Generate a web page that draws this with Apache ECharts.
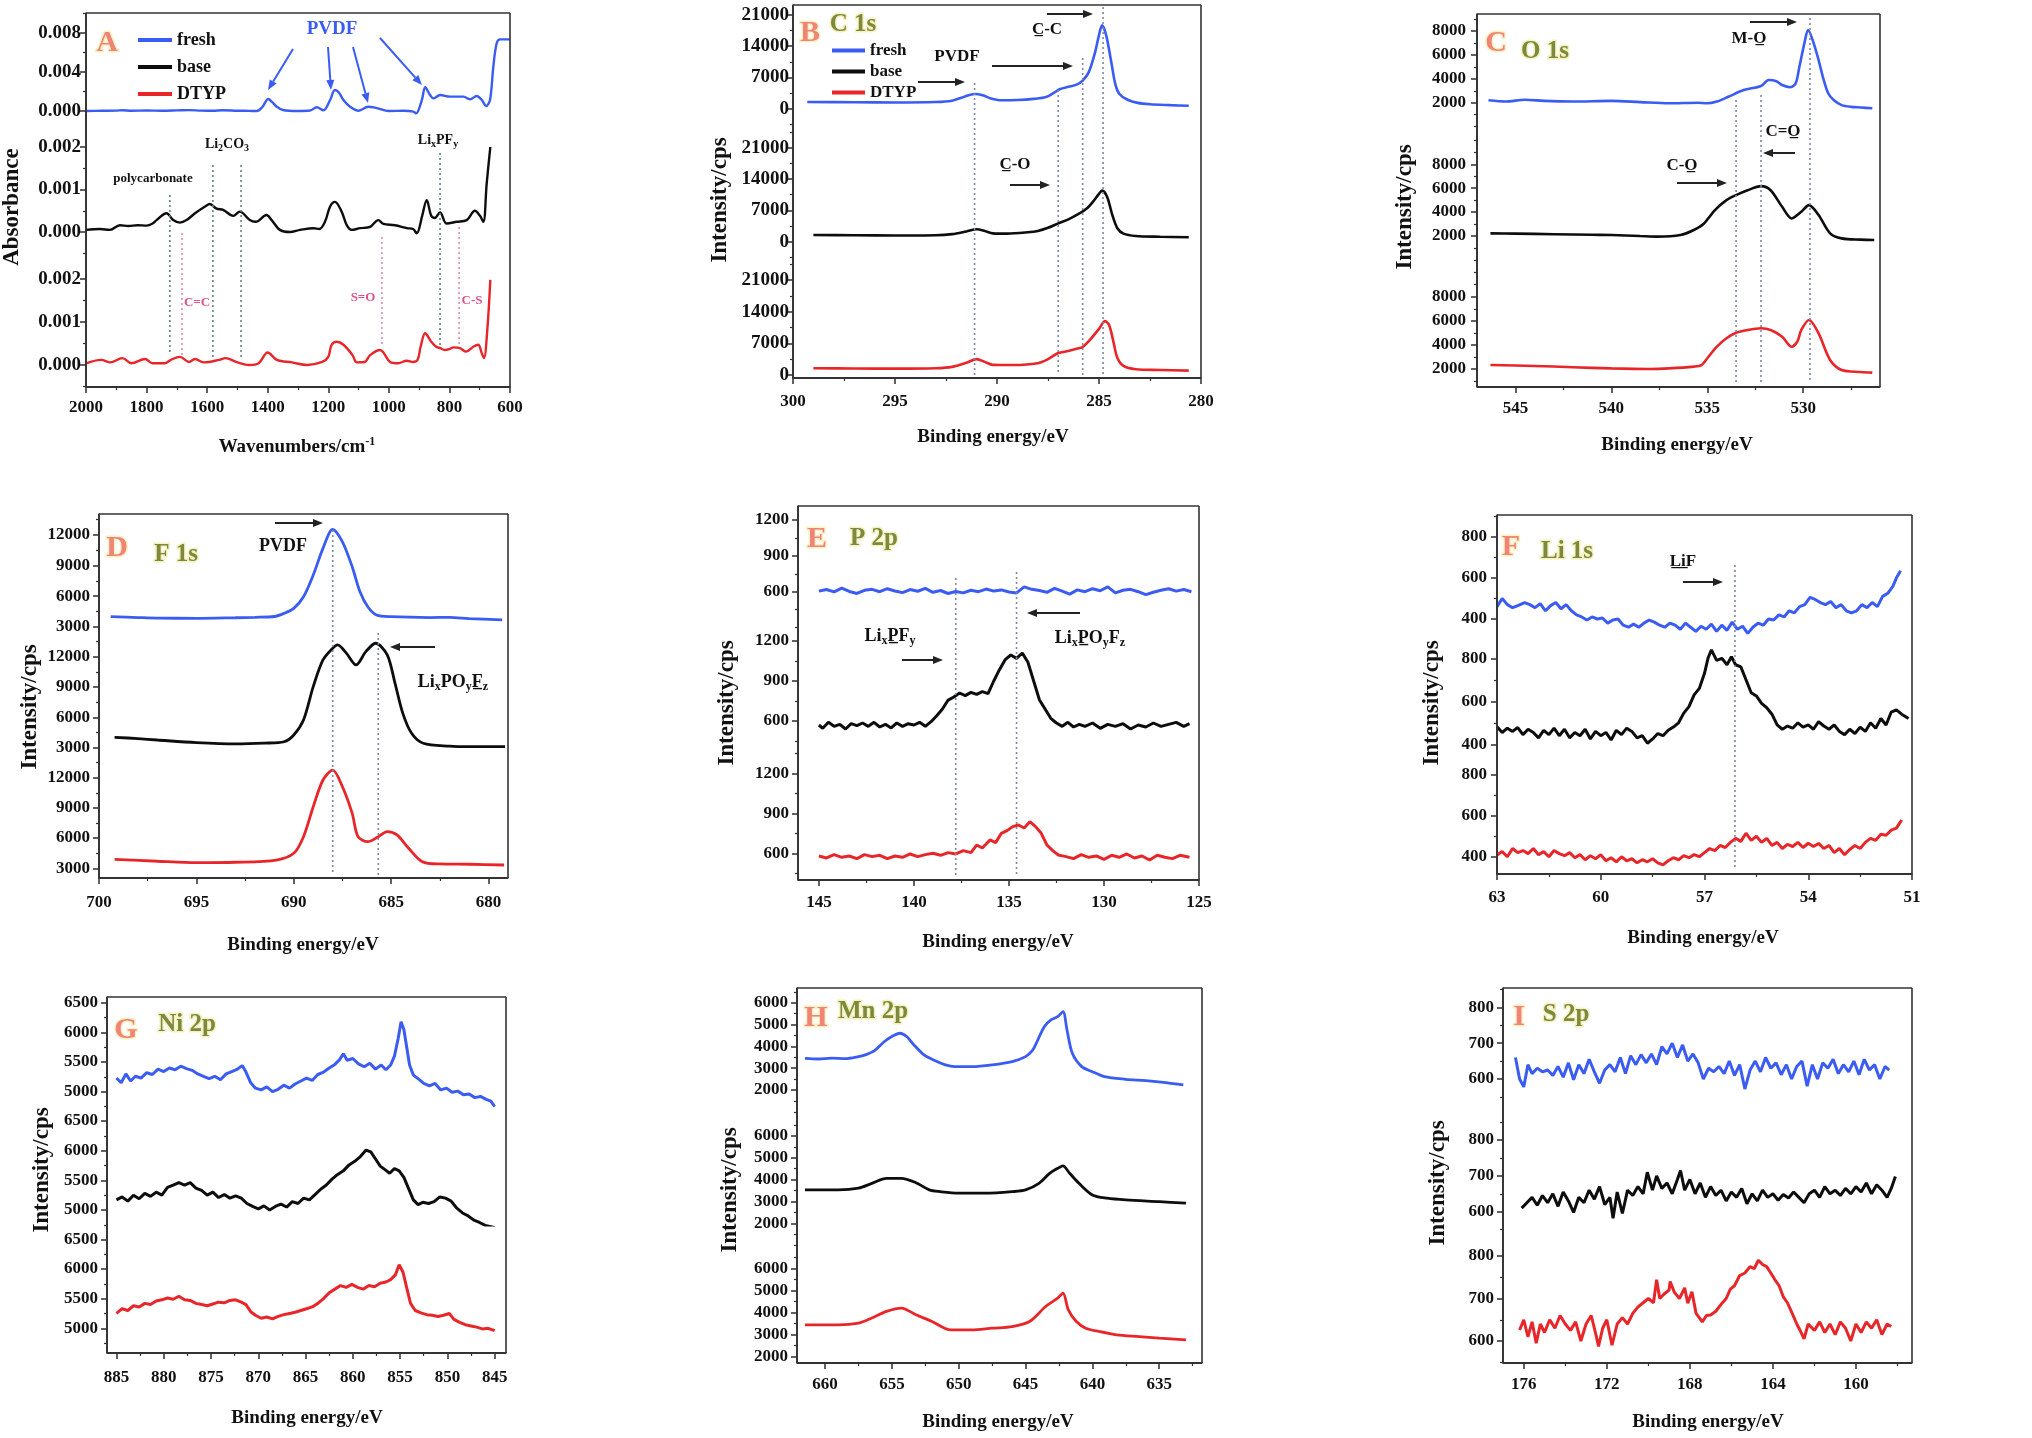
<!DOCTYPE html>
<html>
<head>
<meta charset="utf-8">
<script src="https://cdn.jsdelivr.net/npm/echarts@6/dist/echarts.min.js"></script>
<style>html,body{margin:0;padding:0;background:#fff}#main{width:2032px;height:1438px}</style>
</head>
<body>
<div id="main"></div>
<script>
// ---- A: FTIR absorbance ----
const aFresh = [[2000,0],[1950,0.00002],[1900,0.00004],[1880,0.00008],[1850,0.00003],[1800,0.00005],[1750,0.00003],[1700,0.00006],[1660,0.00009],[1620,0.00004],[1580,0.00002],[1550,0.00008],[1500,0.00003],[1460,0.00001],[1436,0],[1418,0.0004],[1398,0.00123],[1385,0.0009],[1370,0.00044],[1350,0.0001],[1300,0],[1260,0.00005],[1238,0.00038],[1216,0.00007],[1194,0.00113],[1178,0.00215],[1165,0.0019],[1150,0.00113],[1128,0.00044],[1100,0.00003],[1068,0.00044],[1040,0.0003],[1000,0],[950,0.00002],[919,-0.00007],[910,-0.00024],[891,0.00113],[880,0.00243],[864,0.00164],[853,0.0013],[840,0.0015],[831,0.00164],[798,0.00147],[754,0.00147],[732,0.0012],[710,0.00154],[693,0.00113],[679,0.00051],[666,0.00113],[655,0.00455],[644,0.00694],[633,0.00735],[611,0.00735],[600,0.00735]];
const aBase = [[2000,0.00005],[1954,0.00007],[1921,0.00005],[1888,0.00016],[1860,0.00014],[1830,0.00016],[1800,0.00015],[1780,0.0002],[1767,0.00028],[1734,0.00044],[1712,0.00028],[1690,0.00022],[1668,0.00028],[1640,0.00044],[1607,0.0006],[1591,0.00066],[1569,0.00055],[1547,0.00052],[1514,0.00038],[1492,0.00048],[1459,0.00028],[1440,0.00024],[1404,0.0004],[1387,0.00028],[1360,0.00005],[1327,0],[1293,0.00005],[1249,0.00009],[1230,0.00007],[1211,0.00024],[1194,0.0006],[1178,0.00071],[1156,0.00048],[1139,0.00016],[1123,0.00005],[1095,0.00009],[1062,0.00012],[1035,0.00028],[1018,0.00019],[980,0.00016],[940,0.00009],[920,0.00007],[908,-0.00003],[890,0.00038],[875,0.00075],[860,0.00038],[848,0.00033],[831,0.00046],[809,0.0002],[776,0.00024],[743,0.00028],[716,0.0005],[699,0.00038],[688,0.00024],[677,0.00114],[665,0.002]];
const aDtyp = [[2000,0.00004],[1950,0.00012],[1920,0.00006],[1880,0.00016],[1850,0.00004],[1805,0.00014],[1780,0.00004],[1740,0.00004],[1720,0.00012],[1690,0.00019],[1660,0.00007],[1640,0.00014],[1610,0.00006],[1560,0.00012],[1540,0.00016],[1500,0.00006],[1460,0],[1430,0.00004],[1400,0.00029],[1370,0.00012],[1320,0.00006],[1270,0],[1220,0.00007],[1200,0.00019],[1189,0.00047],[1172,0.00054],[1150,0.00047],[1120,0.00023],[1106,0.00006],[1080,0.00007],[1062,0.00023],[1029,0.00035],[1018,0.00029],[996,0.00007],[970,0.00004],[941,0.0001],[920,0.00007],[905,0.00012],[895,0.00043],[880,0.00074],[860,0.00054],[845,0.00043],[830,0.00039],[815,0.00035],[800,0.00037],[787,0.00041],[765,0.00039],[745,0.00031],[720,0.00043],[705,0.00047],[693,0.00027],[686,0.00016],[675,0.00081],[665,0.00198]];

// ---- B: C 1s ----
const bFresh = [[299.3,1500],[297,1450],[295,1400],[293,1500],[292.2,1800],[291.6,2700],[291.1,3300],[290.7,3000],[290.3,2300],[289.8,1900],[289,1950],[288.2,2200],[287.6,2600],[287.2,3600],[286.9,4400],[286.5,4900],[286.1,5400],[285.8,6300],[285.5,8200],[285.2,12500],[285.0,16500],[284.85,18700],[284.65,16500],[284.4,10500],[284.2,5500],[284.0,3300],[283.6,2000],[283.1,1300],[282.5,1000],[281.5,800],[280.6,650]];
const bBase = [[299,1500],[297,1450],[295,1400],[293,1450],[292.2,1700],[291.5,2300],[291.0,2770],[290.6,2400],[290.2,1870],[289.5,1800],[288.5,2100],[288,2400],[287.5,3100],[287,4100],[286.5,5000],[286,6200],[285.6,7400],[285.3,8900],[285.0,10700],[284.85,11400],[284.6,10000],[284.35,6000],[284.1,3000],[283.8,1800],[283.2,1270],[282,1100],[280.6,980]];
const bDtyp = [[299,1500],[297,1450],[295,1400],[293,1500],[292.2,1800],[291.5,2700],[291.0,3510],[290.6,2900],[290.2,2240],[289.2,2200],[288,2600],[287.5,3500],[287,4850],[286.5,5300],[286,5900],[285.8,6200],[285.4,8000],[285.0,10200],[284.7,11900],[284.5,11000],[284.3,7500],[284.1,3800],[283.8,2000],[283.2,1270],[282,1100],[280.6,960]];

// ---- C: O 1s ----
const cFresh = [[546.4,2200],[545.5,2100],[544.5,2250],[543.5,2150],[542,2100],[540,2150],[538.5,2050],[537,1950],[535.5,2000],[535,1950],[534.5,2100],[533.9,2500],[533.1,3060],[532.2,3400],[531.8,3900],[531.4,3800],[531.1,3480],[530.7,3290],[530.4,3600],[530.2,5010],[529.95,6900],[529.75,8080],[529.5,7200],[529.2,5570],[528.95,4000],[528.7,2790],[528.4,2200],[528.0,1800],[527.5,1650],[527,1600],[526.4,1530]];
const cBase = [[546.3,2220],[545,2200],[543,2150],[541,2100],[540,2080],[538.5,2000],[537.6,1950],[536.4,2080],[535.7,2500],[535.2,3000],[534.6,4170],[534.0,5000],[533.5,5420],[532.9,5830],[532.2,6170],[531.7,5830],[531.1,4440],[530.6,3470],[530.1,4030],[529.7,4580],[529.2,3750],[528.6,2220],[528.0,1800],[527,1700],[526.3,1670]];
const cDtyp = [[546.3,2330],[544,2250],[542,2150],[540,2050],[538,2000],[537,2050],[535.7,2200],[535.3,2330],[535,2890],[534.5,3850],[534.0,4550],[533.5,5010],[532.9,5240],[532.2,5380],[531.7,5240],[531.1,4680],[530.6,3850],[530.3,4300],[530.1,5240],[529.7,6070],[529.2,4960],[528.6,2750],[528.0,1920],[527,1750],[526.4,1700]];

// ---- D: F 1s ----
const dFresh = [[699.4,3980],[698,3900],[697,3850],[695,3820],[693,3880],[692,3920],[691,4000],[690.5,4310],[690,4800],[689.5,5940],[689,8070],[688.5,10690],[688.0,12550],[687.5,11330],[687,8880],[686.6,6430],[686.2,4960],[685.75,4150],[685,3980],[683,3900],[682,3920],[681,3800],[679.3,3660]];
const dBase = [[699.2,4030],[698,3900],[697,3760],[695,3500],[693,3370],[691.5,3450],[690.5,3590],[690,4260],[689.5,5740],[689,9040],[688.5,11680],[688,12840],[687.75,13170],[687.3,12350],[686.8,11190],[686.3,12500],[685.8,13330],[685.2,12180],[684.8,9370],[684.4,6400],[683.95,4430],[683.35,3440],[682,3150],[681,3100],[679.15,3100]];
const dDtyp = [[699.2,3890],[697,3700],[695,3560],[693,3600],[690.9,3820],[690,4490],[689.5,6140],[689,9120],[688.5,11770],[688,12760],[687.5,11100],[687,8460],[686.7,6140],[686.2,5640],[685.7,6080],[685.2,6640],[684.7,6310],[684.1,4990],[683.4,3660],[682.5,3430],[681,3400],[679.2,3330]];

// ---- E: P 2p ----
const eFresh = [[145.0,605],[144.6,618],[144.2,598],[143.8,630],[143.4,602],[143.0,585],[142.6,612],[142.2,620],[141.8,600],[141.4,625],[141.0,606],[140.6,592],[140.2,618],[139.8,604],[139.4,628],[139.0,595],[138.6,610],[138.2,585],[137.8,602],[137.4,590],[137.0,612],[136.6,600],[136.2,622],[135.8,605],[135.4,615],[135.0,598],[134.6,590],[134.2,640],[133.8,620],[133.4,610],[133.0,595],[132.6,628],[132.2,605],[131.8,580],[131.4,615],[131.0,600],[130.6,625],[130.2,608],[129.8,640],[129.4,590],[129.0,612],[128.6,620],[128.2,600],[127.8,575],[127.4,595],[127.0,612],[126.6,625],[126.2,605],[125.8,618],[125.4,600]];
const eBase = [[145.0,570],[144.8,545],[144.5,590],[144.2,560],[143.9,575],[143.6,540],[143.3,580],[143.0,565],[142.7,585],[142.4,560],[142.1,590],[141.8,555],[141.5,575],[141.2,548],[140.9,585],[140.6,560],[140.3,580],[140.0,570],[139.7,590],[139.4,560],[139.1,595],[138.8,640],[138.5,690],[138.2,757],[137.9,780],[137.6,810],[137.3,790],[137.0,815],[136.7,800],[136.4,820],[136.1,805],[135.8,900],[135.5,985],[135.2,1060],[134.9,1095],[134.6,1070],[134.3,1110],[134.0,1040],[133.7,900],[133.4,760],[133.1,690],[132.8,620],[132.5,585],[132.2,560],[131.9,590],[131.6,555],[131.3,575],[131.0,560],[130.6,585],[130.2,545],[129.8,575],[129.4,560],[129.0,580],[128.6,540],[128.2,570],[127.8,555],[127.4,585],[127.0,560],[126.6,575],[126.2,590],[125.8,560],[125.5,580]];
const eDtyp = [[145.0,580],[144.6,565],[144.2,590],[143.8,570],[143.4,580],[143.0,560],[142.6,590],[142.2,575],[141.8,585],[141.4,560],[141.0,580],[140.6,570],[140.2,595],[139.8,575],[139.4,590],[139.0,600],[138.6,585],[138.2,605],[137.8,595],[137.4,620],[137.0,605],[136.7,662],[136.4,640],[136.0,700],[135.7,680],[135.4,750],[135.1,770],[134.8,800],[134.5,812],[134.2,790],[133.9,837],[133.6,800],[133.3,750],[133.0,662],[132.7,620],[132.4,587],[132.0,575],[131.6,560],[131.2,590],[130.8,570],[130.4,580],[130.0,555],[129.6,585],[129.2,570],[128.8,595],[128.4,565],[128.0,580],[127.6,550],[127.2,585],[126.8,570],[126.4,560],[126.0,585],[125.5,570]];

// ---- F: Li 1s ----
const fFresh = [[63.0,460],[62.85,500],[62.7,470],[62.55,455],[62.4,465],[62.2,480],[62.05,470],[61.9,455],[61.75,475],[61.6,440],[61.45,465],[61.3,480],[61.15,450],[61.0,470],[60.85,440],[60.7,420],[60.55,410],[60.4,395],[60.25,410],[60.1,400],[59.95,405],[59.8,380],[59.65,395],[59.5,400],[59.35,370],[59.2,360],[59.05,375],[58.9,360],[58.75,380],[58.6,395],[58.45,385],[58.3,370],[58.15,360],[58.0,380],[57.85,370],[57.7,350],[57.55,380],[57.4,360],[57.25,340],[57.1,365],[56.95,350],[56.8,375],[56.65,340],[56.5,370],[56.35,345],[56.2,385],[56.05,350],[55.9,365],[55.75,330],[55.6,360],[55.45,380],[55.3,370],[55.15,400],[55.0,395],[54.85,420],[54.7,410],[54.55,440],[54.4,430],[54.25,460],[54.1,470],[53.95,505],[53.8,495],[53.65,480],[53.5,470],[53.35,485],[53.2,455],[53.05,470],[52.9,440],[52.75,430],[52.6,440],[52.45,470],[52.3,455],[52.15,480],[52.0,460],[51.85,510],[51.7,525],[51.55,560],[51.45,600],[51.33,635]];
const fBase = [[63.0,482],[62.85,455],[62.7,475],[62.55,460],[62.4,478],[62.25,445],[62.1,470],[61.95,455],[61.8,430],[61.65,465],[61.5,445],[61.35,475],[61.2,440],[61.05,470],[60.9,430],[60.75,455],[60.6,440],[60.45,470],[60.3,425],[60.15,460],[60.0,440],[59.85,455],[59.7,420],[59.55,465],[59.4,445],[59.25,475],[59.1,460],[58.95,430],[58.8,440],[58.65,405],[58.5,425],[58.35,450],[58.2,440],[58.05,465],[57.9,480],[57.75,500],[57.6,545],[57.45,575],[57.3,630],[57.15,660],[57.0,730],[56.9,800],[56.8,839],[56.65,790],[56.5,800],[56.35,770],[56.22,807],[56.1,770],[55.95,760],[55.8,700],[55.65,640],[55.5,625],[55.35,590],[55.2,570],[55.05,540],[54.9,490],[54.75,470],[54.6,485],[54.45,475],[54.3,500],[54.15,480],[54.0,490],[53.85,470],[53.7,505],[53.55,485],[53.4,470],[53.25,490],[53.1,460],[52.95,445],[52.8,470],[52.65,450],[52.5,480],[52.35,460],[52.2,500],[52.05,475],[51.9,520],[51.75,490],[51.6,550],[51.45,560],[51.3,540],[51.1,520]];
const fDtyp = [[63.0,408],[62.85,425],[62.7,400],[62.55,440],[62.4,420],[62.25,430],[62.1,415],[61.95,440],[61.8,410],[61.65,425],[61.5,400],[61.35,430],[61.2,415],[61.05,405],[60.9,420],[60.75,395],[60.6,410],[60.45,385],[60.3,405],[60.15,390],[60.0,410],[59.85,380],[59.7,395],[59.55,375],[59.4,400],[59.25,380],[59.1,390],[58.95,370],[58.8,385],[58.65,375],[58.5,390],[58.35,370],[58.2,360],[58.05,380],[57.9,395],[57.75,385],[57.6,405],[57.45,395],[57.3,410],[57.15,400],[57.0,420],[56.85,440],[56.7,430],[56.55,455],[56.4,445],[56.25,470],[56.1,490],[55.95,475],[55.8,515],[55.65,480],[55.5,500],[55.35,470],[55.2,490],[55.05,455],[54.9,470],[54.75,440],[54.6,460],[54.45,450],[54.3,470],[54.15,445],[54.0,466],[53.85,450],[53.7,465],[53.55,440],[53.4,455],[53.25,420],[53.1,440],[52.95,410],[52.8,435],[52.65,455],[52.5,440],[52.35,470],[52.2,490],[52.05,480],[51.9,510],[51.75,505],[51.6,530],[51.45,540],[51.3,580]];

// ---- G: Ni 2p ----
const gFresh = [[885.0,5230],[884.5,5150],[884.0,5300],[883.5,5180],[883.0,5260],[882.4,5230],[881.8,5320],[881.2,5290],[880.6,5380],[880.0,5340],[879.4,5400],[878.8,5370],[878.2,5430],[877.6,5390],[877.0,5360],[876.4,5300],[875.8,5260],[875.2,5220],[874.6,5260],[874.0,5200],[873.4,5300],[872.8,5340],[872.2,5380],[871.7,5440],[871.3,5330],[870.8,5150],[870.3,5060],[869.7,5030],[869.1,5080],[868.5,5000],[867.9,5040],[867.3,5110],[866.7,5060],[866.1,5130],[865.5,5180],[864.9,5230],[864.3,5190],[863.7,5290],[863.1,5330],[862.5,5400],[861.9,5460],[861.4,5540],[861.0,5640],[860.6,5530],[860.0,5560],[859.4,5470],[858.8,5420],[858.2,5480],[857.6,5380],[857.0,5450],[856.5,5370],[856.0,5450],[855.6,5600],[855.2,5900],[854.9,6180],[854.6,6050],[854.3,5750],[854.0,5450],[853.6,5280],[853.1,5220],[852.5,5140],[851.9,5100],[851.3,5140],[850.7,5030],[850.1,5060],[849.5,4990],[848.9,5010],[848.3,4950],[847.7,4960],[847.1,4900],[846.5,4920],[845.9,4870],[845.4,4840],[845.0,4750]];
const gBase = [[885.0,5170],[884.4,5220],[883.8,5150],[883.2,5250],[882.6,5190],[882.0,5280],[881.4,5230],[880.8,5300],[880.2,5250],[879.6,5380],[879.0,5420],[878.4,5460],[877.8,5420],[877.2,5460],[876.6,5370],[876.0,5330],[875.4,5250],[874.8,5300],[874.2,5210],[873.6,5260],[873.0,5200],[872.4,5240],[871.8,5200],[871.2,5110],[870.6,5060],[870.0,5020],[869.4,5070],[868.8,5000],[868.2,5060],[867.6,5100],[867.0,5050],[866.4,5140],[865.8,5110],[865.2,5200],[864.6,5170],[864.0,5260],[863.4,5350],[862.8,5420],[862.2,5520],[861.6,5600],[861.0,5660],[860.4,5760],[859.8,5820],[859.2,5900],[858.6,6010],[858.1,5980],[857.6,5860],[857.1,5740],[856.6,5680],[856.1,5620],[855.6,5700],[855.1,5660],[854.6,5550],[854.1,5360],[853.6,5170],[853.1,5090],[852.6,5130],[852.0,5110],[851.4,5140],[850.8,5220],[850.2,5200],[849.6,5150],[849.0,5030],[848.4,4950],[847.8,4900],[847.2,4830],[846.6,4790],[846.0,4740],[845.4,4720],[845.0,4700]];
const gDtyp = [[885.0,5250],[884.4,5330],[883.8,5300],[883.2,5380],[882.6,5360],[882.0,5420],[881.4,5400],[880.8,5460],[880.2,5480],[879.6,5510],[879.0,5490],[878.4,5540],[877.8,5480],[877.2,5470],[876.6,5420],[876.0,5400],[875.4,5380],[874.8,5410],[874.2,5440],[873.6,5430],[873.0,5470],[872.4,5480],[871.8,5440],[871.3,5400],[870.8,5280],[870.3,5220],[869.7,5170],[869.1,5190],[868.5,5160],[867.9,5200],[867.3,5230],[866.7,5250],[866.1,5270],[865.5,5300],[864.9,5330],[864.3,5360],[863.7,5420],[863.1,5500],[862.5,5600],[861.9,5660],[861.3,5720],[860.7,5690],[860.1,5740],[859.5,5690],[858.9,5660],[858.3,5720],[857.7,5700],[857.1,5760],[856.5,5780],[856.0,5820],[855.5,5900],[855.1,6070],[854.7,5950],[854.3,5680],[853.9,5420],[853.4,5300],[852.8,5260],[852.2,5230],[851.6,5220],[851.0,5200],[850.4,5220],[849.8,5250],[849.3,5150],[848.7,5100],[848.1,5060],[847.5,5040],[846.9,5020],[846.3,4990],[845.7,5000],[845.0,4960]];

// ---- H: Mn 2p ----
const hFresh = [[661.5,3450],[660.5,3420],[659.5,3460],[658.5,3440],[657.5,3530],[657.0,3610],[656.3,3800],[655.6,4200],[655.0,4450],[654.4,4600],[653.9,4450],[653.4,4100],[652.6,3610],[651.8,3350],[651.0,3150],[650.3,3070],[649.0,3070],[647.5,3150],[646,3300],[645,3530],[644.5,3800],[644.2,4140],[643.6,4900],[643.1,5210],[642.6,5360],[642.2,5590],[641.9,4750],[641.5,3680],[640.8,3070],[640.0,2840],[639.1,2610],[637.5,2490],[636,2430],[634.5,2340],[633.2,2230]];
const hBase = [[661.5,3530],[659,3530],[657.5,3610],[656.5,3830],[655.4,4060],[654.3,4060],[653.2,3860],[652.2,3530],[651.4,3450],[650,3380],[648,3380],[646,3450],[645,3530],[644,3830],[643.2,4290],[642.5,4550],[642.2,4630],[641.7,4290],[641.0,3830],[640.0,3300],[638.9,3150],[637.5,3070],[635,2990],[633,2920]];
const hDtyp = [[661.5,3440],[659,3440],[657.5,3520],[656.5,3750],[655.4,4050],[654.3,4200],[653.2,3900],[652,3590],[650.6,3210],[649,3210],[647.5,3290],[646,3360],[644.7,3590],[643.5,4270],[642.6,4650],[642.2,4880],[641.8,4120],[641.2,3590],[640.5,3290],[639.5,3140],[638.2,2990],[636.5,2910],[635,2840],[633,2760]];

// ---- I: S 2p ----
const iFresh = [[176.4,660],[176.2,600],[176.0,578],[175.8,640],[175.6,615],[175.35,630],[175.1,620],[174.85,625],[174.6,610],[174.35,635],[174.1,605],[173.85,645],[173.6,598],[173.35,640],[173.1,615],[172.85,655],[172.6,620],[172.35,588],[172.1,625],[171.85,640],[171.6,620],[171.35,660],[171.1,615],[170.85,665],[170.6,640],[170.35,668],[170.1,645],[169.85,670],[169.6,640],[169.35,690],[169.1,670],[168.85,700],[168.6,660],[168.35,695],[168.1,650],[167.85,670],[167.6,645],[167.35,600],[167.1,630],[166.85,620],[166.6,635],[166.35,615],[166.1,650],[165.85,610],[165.6,640],[165.35,572],[165.1,625],[164.85,650],[164.6,620],[164.35,660],[164.1,630],[163.85,645],[163.6,612],[163.35,640],[163.1,600],[162.85,635],[162.6,650],[162.35,580],[162.1,640],[161.85,600],[161.6,645],[161.35,630],[161.1,655],[160.85,615],[160.6,640],[160.35,620],[160.1,650],[159.85,612],[159.6,655],[159.35,625],[159.1,640],[158.85,600],[158.6,635],[158.4,625]];
const iBase = [[176.1,610],[175.85,625],[175.6,640],[175.35,618],[175.1,645],[174.85,625],[174.6,650],[174.35,615],[174.1,655],[173.85,630],[173.6,598],[173.35,640],[173.1,625],[172.85,660],[172.6,635],[172.35,670],[172.1,620],[171.85,640],[171.7,582],[171.5,655],[171.25,595],[171.0,660],[170.75,645],[170.5,670],[170.25,650],[170.05,710],[169.8,660],[169.6,700],[169.35,665],[169.1,680],[168.85,650],[168.6,690],[168.45,715],[168.25,660],[168.0,690],[167.75,650],[167.5,680],[167.25,640],[167.0,670],[166.75,645],[166.5,660],[166.25,630],[166.0,655],[165.75,640],[165.5,665],[165.25,622],[165.0,650],[164.75,630],[164.5,660],[164.25,640],[164.0,650],[163.75,632],[163.5,648],[163.25,638],[163.0,655],[162.75,640],[162.5,625],[162.25,650],[162.0,660],[161.75,640],[161.5,670],[161.25,650],[161.0,660],[160.75,645],[160.5,665],[160.25,650],[160.0,670],[159.75,655],[159.5,680],[159.25,650],[159.0,675],[158.75,660],[158.5,640],[158.3,665],[158.1,698]];
const iDtyp = [[176.2,626],[176.0,650],[175.8,610],[175.6,645],[175.4,595],[175.2,640],[175.0,620],[174.75,650],[174.5,630],[174.25,660],[174.0,640],[173.75,625],[173.5,645],[173.25,600],[173.0,640],[172.75,660],[172.5,610],[172.4,587],[172.2,630],[172.0,650],[171.75,590],[171.5,640],[171.25,655],[171.0,640],[170.75,665],[170.5,680],[170.25,690],[170.0,700],[169.75,690],[169.6,744],[169.45,700],[169.25,710],[169.0,720],[168.95,740],[168.75,715],[168.5,700],[168.25,725],[168.1,689],[167.9,716],[167.7,665],[167.4,645],[167.2,660],[167.0,661],[166.75,670],[166.45,689],[166.25,700],[166.05,722],[165.85,730],[165.6,754],[165.35,760],[165.1,775],[164.9,770],[164.7,790],[164.5,780],[164.3,775],[164.1,760],[163.9,744],[163.7,730],[163.5,704],[163.3,690],[163.07,665],[162.85,640],[162.7,626],[162.5,605],[162.3,640],[162.0,625],[161.75,645],[161.5,620],[161.25,640],[161.0,615],[160.75,645],[160.5,630],[160.25,600],[160.0,640],[159.75,620],[159.5,645],[159.25,630],[159.0,650],[158.75,615],[158.5,640],[158.3,634]];

// tick labels
const aX = [2000,1800,1600,1400,1200,1000,800,600];
const aY1 = [0,0.004,0.008];
const aY2 = [0,0.001,0.002];
const bX = [300,295,290,285,280];
const bY = [0,7000,14000,21000];
const cX = [545,540,535,530];
const cY = [2000,4000,6000,8000];
const dX = [700,695,690,685,680];
const dY = [3000,6000,9000,12000];
const eX = [145,140,135,130,125];
const eY = [600,900,1200];
const fX = [63,60,57,54,51];
const fY = [400,600,800];
const gX = [885,880,875,870,865,860,855,850,845];
const gY = [5000,5500,6000,6500];
const hX = [660,655,650,645,640,635];
const hY = [2000,3000,4000,5000,6000];
const iX = [176,172,168,164,160];
const iY = [600,700,800];

const names = ['fresh','base','DTYP'];
const colors = ['#3b5cf2','#0d0d0d','#e8262a'];
const FONT = 'Liberation Serif';

// layout of each panel (pixels) - frame, x range, sub-axis bands and tick calibration
const panels = [
  {id:'A', d:[aFresh,aBase,aDtyp], xt:aX, yt:[aY1,aY2,aY2], frame:[86,13,510,387], xr:[600,2000], xm:100,
   subs:[[13,128],[128,258],[258,387]], cal:[[0.008,33,0,111],[0.002,147,0,232],[0.002,279,0,365]], ym:[0.002,0.0005,0.0005],
   dec:3, smooth:0.35, xm0:12, ymg:5, yfs:19, lw:2.4},
  {id:'B', d:[bFresh,bBase,bDtyp], xt:bX, yt:[bY,bY,bY], frame:[793,5,1201,378], xr:[280,300], xm:2.5,
   subs:[[5,128],[128,261],[261,378]], cal:[[21000,15,0,108.7],[21000,147.7,0,241.7],[21000,280,0,375]], ym:[3500,3500,3500],
   dec:0, smooth:0.3, xm0:15, ymg:4, yfs:19, lw:2.6},
  {id:'C', d:[cFresh,cBase,cDtyp], xt:cX, yt:[cY,cY,cY], frame:[1477,14,1880,387], xr:[526,547], xm:2.5,
   subs:[[14,133],[133,266],[266,387]], cal:[[8000,31,2000,102.7],[8000,164.3,2000,236],[8000,296.7,2000,369]], ym:[1000,1000,1000],
   dec:0, smooth:0.3, xm0:13, ymg:11, yfs:17, lw:2.6},
  {id:'D', d:[dFresh,dBase,dDtyp], xt:dX, yt:[dY,dY,dY], frame:[99,514,508,878], xr:[679,700], xm:2.5,
   subs:[[514,641],[641,762],[762,878]], cal:[[12000,535,3000,626.7],[12000,656.7,3000,747.7],[12000,777.7,3000,868.3]], ym:[1500,1500,1500],
   dec:0, smooth:0.3, xm0:16, ymg:9, yfs:17, lw:2.8},
  {id:'E', d:[eFresh,eBase,eDtyp], xt:eX, yt:[eY,eY,eY], frame:[798,506,1199,880], xr:[125,146.1], xm:2.5,
   subs:[[506,628],[628,750],[750,880]], cal:[[1200,520,600,591.7],[1200,641,600,721],[1200,773.3,600,853.3]], ym:[150,150,150],
   dec:0, smooth:false, xm0:14, ymg:9, yfs:17, lw:3},
  {id:'F', d:[fFresh,fBase,fDtyp], xt:fX, yt:[fY,fY,fY], frame:[1497,515,1912,874], xr:[51,63], xm:1.5,
   subs:[[515,638],[638,760],[760,874]], cal:[[800,536.7,400,619],[800,658.3,400,744.3],[800,775,400,856.7]], ym:[100,100,100],
   dec:0, smooth:false, xm0:15, ymg:10, yfs:17, lw:3},
  {id:'G', d:[gFresh,gBase,gDtyp], xt:gX, yt:[gY,gY,gY], frame:[107,997,506,1353], xr:[843.8,886], xm:2.5,
   subs:[[997,1106],[1106,1225],[1225,1353]], cal:[[6500,1002.7,5000,1091.7],[6500,1121,5000,1210],[6500,1239.3,5000,1328.3]], ym:[250,250,250],
   dec:0, smooth:false, xm0:16, ymg:9, yfs:17, lw:3},
  {id:'H', d:[hFresh,hBase,hDtyp], xt:hX, yt:[hY,hY,hY], frame:[797,988,1202,1363], xr:[631.8,662.1], xm:2.5,
   subs:[[988,1122],[1122,1256],[1256,1363]], cal:[[6000,1002.7,2000,1090],[6000,1136,2000,1223.3],[6000,1268.3,2000,1356.7]], ym:[500,500,500],
   dec:0, smooth:0.3, xm0:13, ymg:9, yfs:17, lw:2.8},
  {id:'I', d:[iFresh,iBase,iDtyp], xt:iX, yt:[iY,iY,iY], frame:[1503,988,1912,1363], xr:[157.3,177], xm:2,
   subs:[[988,1112],[1112,1238],[1238,1363]], cal:[[800,1007.3,600,1079],[800,1140,600,1211.7],[800,1256,600,1341]], ym:[50,50,50],
   dec:0, smooth:false, xm0:13, ymg:9, yfs:17, lw:3}
];

function rangeFrom(cal, top, bottom) {
  const [v1, p1, v2, p2] = cal;
  const k = (v2 - v1) / (p2 - p1);
  return {min: v1 + (bottom - p1) * k, max: v1 + (top - p1) * k};
}
function minorVals(majors, step, lo, hi) {
  const base = majors[0], out = [];
  for (let k = Math.ceil((lo - base) / step - 1e-9); base + k * step <= hi + 1e-9; k++) {
    const v = +(base + k * step).toFixed(6);
    if (!majors.some(m => Math.abs(m - v) < step * 0.01)) out.push(v);
  }
  return out;
}

const AX = '#2e2e2e';
const grid = [], xAxis = [], yAxis = [], series = [];
panels.forEach(p => {
  const [L, T, R, B] = p.frame;
  const go = grid.length;
  grid.push({left: L, top: T, width: R - L, height: B - T, outerBoundsMode: 'none', containLabel: false});
  const xb = {type: 'value', gridIndex: go, min: p.xr[0], max: p.xr[1], inverse: true, position: 'bottom', splitLine: {show: false}};
  p.xIdx = xAxis.length;
  xAxis.push(Object.assign({}, xb, {
    axisLine: {show: true, onZero: false, lineStyle: {color: AX, width: 1.5}},
    axisTick: {show: true, customValues: p.xt, length: 6, inside: false, lineStyle: {color: AX, width: 1.5}},
    axisLabel: {customValues: p.xt, margin: p.xm0, color: '#111', fontFamily: FONT, fontWeight: 'bold', fontSize: 17,
                formatter: v => String(v)}
  }));
  xAxis.push(Object.assign({}, xb, {
    axisLine: {show: false, onZero: false},
    axisTick: {show: true, customValues: minorVals(p.xt, p.xm, p.xr[0], p.xr[1]), length: 3, lineStyle: {color: AX, width: 1.2}},
    axisLabel: {show: false}
  }));
  yAxis.push({type: 'value', gridIndex: go, show: false, splitLine: {show: false}});
  p.subs.forEach((s, k) => {
    const gi = grid.length;
    grid.push({left: L, top: s[0], width: R - L, height: s[1] - s[0], outerBoundsMode: 'none', containLabel: false});
    const r = rangeFrom(p.cal[k], s[0], s[1]);
    const xi = xAxis.length;
    xAxis.push({type: 'value', gridIndex: gi, min: p.xr[0], max: p.xr[1], inverse: true, show: false, splitLine: {show: false}});
    const yi = yAxis.length;
    const yb = {type: 'value', gridIndex: gi, min: r.min, max: r.max, position: 'left', splitLine: {show: false}};
    yAxis.push(Object.assign({}, yb, {
      axisLine: {show: true, onZero: false, lineStyle: {color: AX, width: 1.5}},
      axisTick: {show: true, customValues: p.yt[k], length: 6, lineStyle: {color: AX, width: 1.5}},
      axisLabel: {customValues: p.yt[k], margin: p.ymg, color: '#111', fontFamily: FONT, fontWeight: 'bold', fontSize: p.yfs,
                  formatter: v => p.dec ? v.toFixed(p.dec) : String(Math.round(v))}
    }));
    yAxis.push(Object.assign({}, yb, {
      axisLine: {show: false, onZero: false},
      axisTick: {show: true, customValues: minorVals(p.yt[k], p.ym[k], r.min, r.max), length: 3, lineStyle: {color: AX, width: 1.2}},
      axisLabel: {show: false}
    }));
    series.push({type: 'line', name: names[k], xAxisIndex: xi, yAxisIndex: yi, data: p.d[k],
                 showSymbol: false, symbol: 'none', smooth: p.smooth, silent: true,
                 lineStyle: {width: p.lw, color: colors[k]}, itemStyle: {color: colors[k]}});
  });
});

const legendText = {color: '#111', fontFamily: FONT, fontWeight: 'bold'};
const chart = echarts.init(document.getElementById('main'));
chart.setOption({
  animation: false,
  backgroundColor: '#ffffff',
  textStyle: {fontFamily: FONT},
  grid, xAxis, yAxis, series,
  legend: [
    {left: 133, top: 26, orient: 'vertical', icon: 'rect', itemWidth: 34, itemHeight: 4, itemGap: 9, selectedMode: false,
     data: names, textStyle: Object.assign({fontSize: 18, lineHeight: 18}, legendText)},
    {left: 827, top: 37, orient: 'vertical', icon: 'rect', itemWidth: 33, itemHeight: 4, itemGap: 4, selectedMode: false,
     data: names, textStyle: Object.assign({fontSize: 17, lineHeight: 17}, legendText)}
  ]
});

// ---- decorations ----
const G = '#7d88a8';
const dotLines = [
  ['A',1723,195,355,'#5d8484'],['A',1683,233,355,'#e28ab8'],['A',1581,165,358,'#5d8484'],['A',1488,165,358,'#5d8484'],
  ['A',1023,237,347,'#e28ab8'],['A',831,153,345,'#5d8484'],['A',768,227,347,'#e28ab8'],
  ['B',291.1,83,375,G],['B',287.0,90,375,G],['B',285.8,58,375,G],['B',284.8,7,375,G],
  ['C',533.5,100,383,G],['C',532.2,95,383,G],['C',529.65,18,383,G],
  ['D',688.0,530,875,G],['D',685.66,633,875,G],
  ['E',137.8,578,877,G],['E',134.6,572,877,G],
  ['F',56.12,565,870,G]
];
const arrows = [
  [293,49,268,90,'#3b5cf2'],[328,47,331,90,'#3b5cf2'],[353,47,368,103,'#3b5cf2'],[380,38,422,85,'#3b5cf2'],
  [918,82,965,82,'#222'],[992,66,1073,66,'#222'],[1047,14,1093,14,'#222'],[1010,185,1050,185,'#222'],
  [1750,22,1797,22,'#222'],[1795,153,1763,153,'#222'],[1677,183,1727,183,'#222'],
  [275,523,323,523,'#222'],[435,647,390,647,'#222'],
  [902,660,943,660,'#222'],[1080,613,1027,613,'#222'],
  [1683,582,1723,582,'#222']
];
const U = '\u0332';
const notes = [
  [332,29,'PVDF',19,'#3b5cf2'],
  [153,179,'polycarbonate',13,'#111'],
  [227,144,'{n|Li}{s|2}{n|CO}{s|3}',14,'#111'],
  [438,140,'{n|Li}{s|x}{n|PF}{s|y}',14,'#111'],
  [197,303,'C=C',13,'#e0508a'],[363,298,'S=O',13,'#e0508a'],[472,301,'C-S',13,'#e0508a'],
  [1047,30,'C'+U+'-C',17,'#111'],[957,57,'PVDF',17,'#111'],[1015,165,'C'+U+'-O',17,'#111'],
  [1749,39,'M-O'+U,17,'#111'],[1783,132,'C=O'+U,17,'#111'],[1682,166,'C-O'+U,17,'#111'],
  [283,546,'PVDF',18,'#111'],
  [453,682,'{n|Li}{s|x}{n|PO}{s|y}{n|F'+U+'}{s|z}',18,'#111'],
  [890,636,'{n|Li}{s|x}{n|P'+U+'F}{s|y}',18,'#111'],
  [1090,638,'{n|Li}{s|x}{n|P'+U+'O}{s|y}{n|F}{s|z}',18,'#111'],
  [1683,562,'L'+U+'i'+U+'F',17,'#111']
];
const letters = [
  [107,43,'A',null],[810,33,'B',[853,25,'C 1s']],[1496,43,'C',[1545,52,'O 1s']],
  [117,548,'D',[176,555,'F 1s']],[817,539,'E',[874,539,'P 2p']],[1511,547,'F',[1567,552,'Li 1s']],
  [126,1030,'G',[187,1025,'Ni 2p']],[816,1018,'H',[873,1012,'Mn 2p']],[1519,1017,'I',[1566,1015,'S 2p']]
];
const xTitles = [[297,447,'{t|Wavenumbers/cm}{u|-1}'],[993,437],[1677,445],[303,945],[998,942],[1703,938],[307,1418],[998,1422],[1708,1422]];
const yTitles = [[12,207,'Absorbance'],[720,200],[1405,207],[30,707],[727,703],[1432,703],[42,1170],[730,1190],[1438,1183]];

function txt(x, y, text, size, color, extra) {
  const rich = {
    n: {fontSize: size, fontWeight: 'bold', fontFamily: FONT, fill: color},
    s: {fontSize: Math.round(size * 0.68), fontWeight: 'bold', fontFamily: FONT, fill: color, padding: [Math.round(size * 0.55), 0, 0, 0]},
    t: {fontSize: size, fontWeight: 'bold', fontFamily: FONT, fill: color},
    u: {fontSize: Math.round(size * 0.65), fontWeight: 'bold', fontFamily: FONT, fill: color, padding: [0, 0, Math.round(size * 0.6), 0]}
  };
  return Object.assign({type: 'text', x: x, y: y, silent: true, z: 50,
    style: {text: text, x: 0, y: 0, align: 'center', verticalAlign: 'middle', fill: color,
            fontSize: size, fontWeight: 'bold', fontFamily: FONT, rich: rich}}, extra || {});
}
function seg(x1, y1, x2, y2, stroke, w, extra) {
  return {type: 'line', silent: true, z: 30, shape: {x1: x1, y1: y1, x2: x2, y2: y2},
          style: Object.assign({stroke: stroke, lineWidth: w}, extra || {})};
}

const graphic = [];
const byId = {};
panels.forEach(p => {
  byId[p.id] = p;
  const [L, T, R, B] = p.frame;
  const c = '#333333';
  graphic.push(seg(L, T, R, T, c, 1.6), seg(R, T, R, B, c, 1.6), seg(L, B, R, B, c, 1.8), seg(L, T, L, B, c, 1.8));
});
dotLines.forEach(([id, v, y1, y2, c]) => {
  const px = chart.convertToPixel({xAxisIndex: byId[id].xIdx}, v);
  graphic.push(seg(px, y1, px, y2, c, 1.6, {lineDash: [2, 3]}));
});
arrows.forEach(([x1, y1, x2, y2, c]) => {
  const a = Math.atan2(y2 - y1, x2 - x1), hl = 10, hw = 4;
  const bx = x2 - hl * Math.cos(a), by = y2 - hl * Math.sin(a);
  graphic.push(seg(x1, y1, bx, by, c, 2));
  graphic.push({type: 'polygon', silent: true, z: 40,
    shape: {points: [[x2, y2], [bx + hw * Math.sin(a), by - hw * Math.cos(a)], [bx - hw * Math.sin(a), by + hw * Math.cos(a)]]},
    style: {fill: c}});
});
notes.forEach(([x, y, t, s, c]) => graphic.push(txt(x, y, t, s, c)));
letters.forEach(([x, y, L, el]) => {
  const g0 = txt(x, y, '{n|' + L + '}', 30, '#f08478');
  g0.style.rich.n.stroke = '#fbf2c2';
  g0.style.rich.n.lineWidth = 3;
  graphic.push(g0);
  if (el) {
    const g = txt(el[0], el[1], '{n|' + el[2] + '}', 25, '#7b8a3c');
    g.style.rich.n.stroke = '#f7f0c0';
    g.style.rich.n.lineWidth = 3;
    graphic.push(g);
  }
});
xTitles.forEach(([x, y, t]) => graphic.push(txt(x, y, t || '{t|Binding energy/eV}', 19, '#111')));
yTitles.forEach(([x, y, t]) => graphic.push(txt(x, y, '{n|' + (t || 'Intensity/cps') + '}', 23, '#111', {rotation: Math.PI / 2})));

chart.setOption({graphic: graphic});
</script>
</body>
</html>
